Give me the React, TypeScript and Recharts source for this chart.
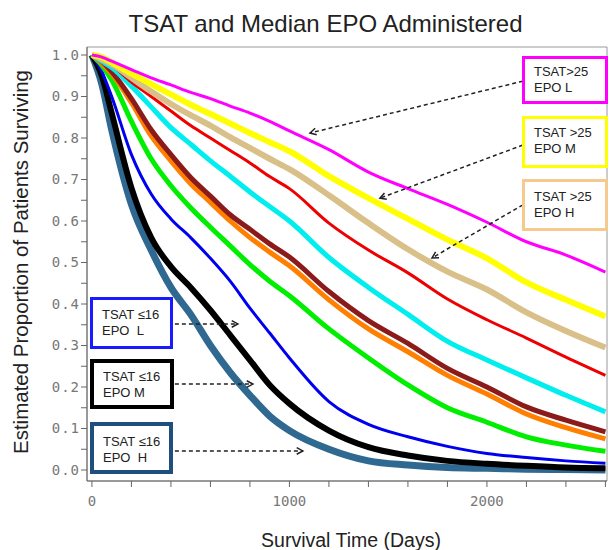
import React from 'react';
import { LineChart, Line, XAxis, YAxis, ReferenceLine, ReferenceArea, Label } from 'recharts';

// survival time grid (days)
const DAYS = [0, 50, 100, 200, 300, 400, 500, 600, 700, 800, 900, 1000, 1200, 1400, 1600, 1800, 2000, 2200, 2400, 2600];

// estimated proportion surviving
const tsatHiEpoL = [1, 0.995, 0.985, 0.965, 0.945, 0.928, 0.91, 0.895, 0.877, 0.86, 0.84, 0.817, 0.772, 0.718, 0.678, 0.64, 0.597, 0.55, 0.518, 0.477];
const tsatHiEpoM = [1, 0.995, 0.982, 0.955, 0.93, 0.905, 0.88, 0.858, 0.835, 0.812, 0.79, 0.768, 0.708, 0.655, 0.605, 0.555, 0.51, 0.452, 0.41, 0.37];
const tsatHiEpoH = [1, 0.99, 0.978, 0.945, 0.912, 0.882, 0.855, 0.83, 0.802, 0.776, 0.75, 0.725, 0.662, 0.595, 0.532, 0.478, 0.435, 0.38, 0.335, 0.295];
const redSeries = [1, 0.99, 0.975, 0.935, 0.9, 0.865, 0.83, 0.8, 0.77, 0.74, 0.707, 0.678, 0.595, 0.53, 0.475, 0.412, 0.362, 0.318, 0.272, 0.228];
const cyanSeries = [1, 0.985, 0.97, 0.925, 0.875, 0.825, 0.785, 0.745, 0.708, 0.67, 0.635, 0.6, 0.512, 0.44, 0.375, 0.31, 0.265, 0.222, 0.18, 0.14];
const maroonSeries = [1, 0.985, 0.96, 0.895, 0.82, 0.76, 0.705, 0.66, 0.615, 0.58, 0.545, 0.513, 0.43, 0.36, 0.305, 0.245, 0.2, 0.152, 0.12, 0.092];
const orangeSeries = [1, 0.98, 0.955, 0.885, 0.805, 0.745, 0.69, 0.645, 0.6, 0.56, 0.525, 0.492, 0.41, 0.34, 0.285, 0.228, 0.183, 0.135, 0.102, 0.075];
const greenSeries = [1, 0.975, 0.94, 0.84, 0.75, 0.685, 0.632, 0.585, 0.54, 0.495, 0.455, 0.42, 0.34, 0.27, 0.205, 0.15, 0.115, 0.08, 0.06, 0.045];
const tsatLoEpoL = [1, 0.96, 0.9, 0.76, 0.665, 0.605, 0.56, 0.51, 0.455, 0.39, 0.33, 0.27, 0.165, 0.11, 0.08, 0.057, 0.04, 0.03, 0.022, 0.016];
const tsatLoEpoM = [1, 0.95, 0.86, 0.68, 0.56, 0.49, 0.44, 0.385, 0.325, 0.265, 0.205, 0.16, 0.095, 0.055, 0.035, 0.022, 0.015, 0.01, 0.006, 0.004];
const tsatLoEpoH = [1, 0.93, 0.82, 0.64, 0.53, 0.44, 0.375, 0.3, 0.235, 0.18, 0.13, 0.095, 0.05, 0.022, 0.012, 0.006, 0.004, 0.002, 0.001, 0];

const X_TICKS = [0, 200, 400, 600, 800, 1000, 1200, 1400, 1600, 1800, 2000, 2200, 2400, 2600];
const X_LABELS = [0, 1000, 2000];
const Y_TICKS = [0, 0.05, 0.1, 0.15, 0.2, 0.25, 0.3, 0.35, 0.4, 0.45, 0.5, 0.55, 0.6, 0.65, 0.7, 0.75, 0.8, 0.85, 0.9, 0.95, 1];

const X_DOMAIN = [-25, 2608];
const Y_DOMAIN = [-0.0265, 1.0193];

const series = [
  { key: 'steel', values: tsatLoEpoH, color: '#2f6890', width: 7 },
  { key: 'black', values: tsatLoEpoM, color: '#000000', width: 6 },
  { key: 'blue', values: tsatLoEpoL, color: '#0000f0', width: 3 },
  { key: 'green', values: greenSeries, color: '#00ee00', width: 5 },
  { key: 'orange', values: orangeSeries, color: '#ff7f00', width: 5 },
  { key: 'maroon', values: maroonSeries, color: '#8b1a1a', width: 5 },
  { key: 'cyan', values: cyanSeries, color: '#00eeee', width: 5 },
  { key: 'red', values: redSeries, color: '#ee0000', width: 3 },
  { key: 'tan', values: tsatHiEpoH, color: '#d8c088', width: 6 },
  { key: 'yellow', values: tsatHiEpoM, color: '#ffff00', width: 6 },
  { key: 'magenta', values: tsatHiEpoL, color: '#ff00ff', width: 3 },
];

const rows = DAYS.map((day, i) => {
  const r: Record<string, number> = { day };
  series.forEach((s) => (r[s.key] = s.values[i]));
  return r;
});

// annotation arrows, in data coords [from, to]
const arrows = [
  [[2182, 0.937], [1104, 0.812]],
  [[2182, 0.783], [1458, 0.655]],
  [[2182, 0.639], [1722, 0.511]],
  [[420, 0.352], [739, 0.352]],
  [[420, 0.207], [815, 0.207]],
  [[420, 0.046], [1068, 0.046]],
];

const boxes = [
  { lines: ['TSAT>25', 'EPO L'], color: '#ff00ff', left: 522, top: 56, w: 86, h: 48, bw: 3, pt: 5 },
  { lines: ['TSAT >25', 'EPO M'], color: '#ffff00', left: 522, top: 116, w: 86, h: 52, bw: 3, pt: 6 },
  { lines: ['TSAT >25', 'EPO H'], color: '#f6c98e', left: 522, top: 179, w: 86, h: 52, bw: 3, pt: 7 },
  { lines: ['TSAT \u226416', 'EPO  L'], color: '#1a1aff', left: 90, top: 297, w: 83, h: 52, bw: 3, pt: 7 },
  { lines: ['TSAT \u226416', 'EPO M'], color: '#000000', left: 90, top: 359, w: 84, h: 50, bw: 4, pt: 6 },
  { lines: ['TSAT \u226416', 'EPO  H'], color: '#1f4f7f', left: 90, top: 422, w: 83, h: 52, bw: 4, pt: 8 },
];

const tickFont = { fontFamily: 'DejaVu Sans Mono', fontSize: 14, fill: '#777' };

function Arrow(props: any) {
  const { x1, y1, x2, y2 } = props;
  const a = Math.atan2(y2 - y1, x2 - x1);
  const h = 7;
  const ax = x2 - h * Math.cos(a - 0.5);
  const ay = y2 - h * Math.sin(a - 0.5);
  const bx = x2 - h * Math.cos(a + 0.5);
  const by = y2 - h * Math.sin(a + 0.5);
  return (
    <g>
      <line x1={x1} y1={y1} x2={x2} y2={y2} stroke="#222" strokeWidth={1.5} strokeDasharray="4 3" />
      <polyline points={`${ax},${ay} ${x2},${y2} ${bx},${by}`} fill="none" stroke="#222" strokeWidth={1.5} />
    </g>
  );
}

export default function App() {
  return (
    <div style={{ position: 'absolute', left: 0, top: 0, width: 613, height: 550, background: '#fff' }}>
      <div
        style={{
          position: 'absolute', left: 0, top: 10, width: 651, textAlign: 'center',
          fontFamily: 'Liberation Sans', fontSize: 24, lineHeight: '28px', color: '#222',
        }}
      >
        TSAT and Median EPO Administered
      </div>
      <LineChart width={613} height={550} data={rows} margin={{ top: 47, right: 6, bottom: 0, left: 0 }}>
        <XAxis
          dataKey="day"
          type="number"
          domain={X_DOMAIN}
          ticks={X_TICKS}
          allowDataOverflow
          tickFormatter={(v: number) => (X_LABELS.includes(v) ? String(v) : '')}
          tick={tickFont}
          tickSize={6}
          tickMargin={9}
          height={69}
          axisLine={{ stroke: '#666' }}
          tickLine={{ stroke: '#666' }}
        >
          <Label
            content={({ viewBox }: any) => (
              <text x={viewBox.x + viewBox.width / 2 + 4} y={viewBox.y + 66} textAnchor="middle"
                fontFamily="Liberation Sans" fontSize={19.5} fill="#222">
                Survival Time (Days)
              </text>
            )}
          />
        </XAxis>
        <YAxis
          type="number"
          domain={Y_DOMAIN}
          ticks={Y_TICKS}
          allowDataOverflow
          tickFormatter={(v: number) => (Math.round(v * 100) % 10 === 0 ? v.toFixed(1) : '')}
          tick={{ ...tickFont, letterSpacing: 1 }}
          tickSize={6}
          tickMargin={1}
          width={87}
          axisLine={{ stroke: '#666' }}
          tickLine={{ stroke: '#666' }}
        >
          <Label
            content={({ viewBox }: any) => {
              const cx = 21;
              const cy = viewBox.y + viewBox.height / 2 - 2;
              return (
                <text x={cx} y={cy} transform={`rotate(-90 ${cx} ${cy})`} textAnchor="middle" dy="0.35em"
                  fontFamily="Liberation Sans" fontSize={20.5} fill="#222">
                  Estimated Proportion of Patients Surviving
                </text>
              );
            }}
          />
        </YAxis>
        <ReferenceArea x1={X_DOMAIN[0]} x2={X_DOMAIN[1]} y1={Y_DOMAIN[0]} y2={Y_DOMAIN[1]}
          fill="none" stroke="#999" strokeWidth={1} ifOverflow="visible" />
        {series.map((s) => (
          <Line
            key={s.key}
            dataKey={s.key}
            type="monotone"
            stroke={s.color}
            strokeWidth={s.width}
            dot={false}
            isAnimationActive={false}
          />
        ))}
        {arrows.map((seg, i) => (
          <ReferenceLine
            key={i}
            segment={[{ x: seg[0][0], y: seg[0][1] }, { x: seg[1][0], y: seg[1][1] }]}
            shape={Arrow}
            ifOverflow="visible"
          />
        ))}
      </LineChart>
      {boxes.map((b, i) => (
        <div
          key={i}
          style={{
            position: 'absolute', left: b.left, top: b.top, width: b.w, height: b.h,
            boxSizing: 'border-box', border: `${b.bw}px solid ${b.color}`, background: '#fff',
            padding: `${b.pt}px 0 0 9px`, fontFamily: 'Liberation Sans', fontSize: 13,
            lineHeight: '16px', color: '#222', whiteSpace: 'pre',
          }}
        >
          {b.lines[0]}
          <br />
          {b.lines[1]}
        </div>
      ))}
    </div>
  );
}
